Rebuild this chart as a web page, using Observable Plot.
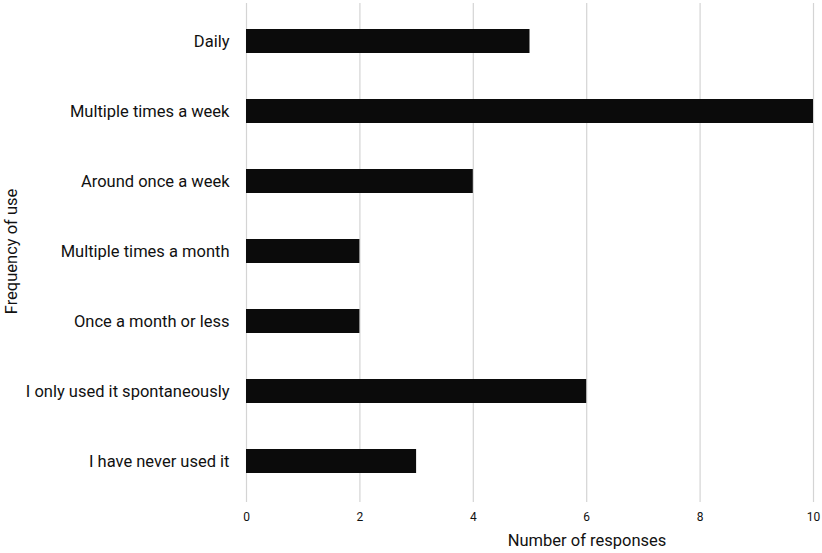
<!DOCTYPE html>
<html>
<head>
<meta charset="utf-8">
<script src="https://cdn.jsdelivr.net/npm/d3@7"></script>
<script src="https://cdn.jsdelivr.net/npm/@observablehq/plot@0.6"></script>
<style>
  body { margin: 0; background: #fff; }
  #chart svg { display: block; }
</style>
</head>
<body>
<div id="chart"></div>
<script>
const categories = [
  "Daily",
  "Multiple times a week",
  "Around once a week",
  "Multiple times a month",
  "Once a month or less",
  "I only used it spontaneously",
  "I have never used it"
];
const responses = [5, 10, 4, 2, 2, 6, 3];
const xTicks = [0, 2, 4, 6, 8, 10];

const data = categories.map((c, i) => ({category: c, value: responses[i]}));

const chart = Plot.plot({
  width: 822,
  height: 553,
  marginLeft: 246,
  marginRight: 9,
  marginTop: 4,
  marginBottom: 55,
  style: {fontFamily: "Roboto, sans-serif", fontSize: "12px", color: "#111", background: "#fff"},
  x: {domain: [0, 10], ticks: xTicks},
  y: {domain: categories, paddingInner: 0.66, paddingOuter: 0.33},
  marks: [
    Plot.gridX(xTicks, {stroke: "#d4d4d4", strokeOpacity: 1, strokeWidth: 1.2, insetTop: -1, insetBottom: -4}),
    Plot.barX(data, {x: "value", y: "category", fill: "#0b0b0b"}),
    Plot.axisX({ticks: xTicks, tickSize: 0, tickPadding: 14, fontSize: 12, label: null}),
    Plot.axisY({tickSize: 0, tickPadding: 17, fontSize: 16.5, label: "Frequency of use", labelAnchor: "center", labelOffset: 241, labelArrow: "none"}),
    Plot.text(["Number of responses"], {frameAnchor: "bottom", dx: 57, dy: 47, fontSize: 16.5, fill: "#111"})
  ]
});
document.getElementById("chart").append(chart);
</script>
</body>
</html>
